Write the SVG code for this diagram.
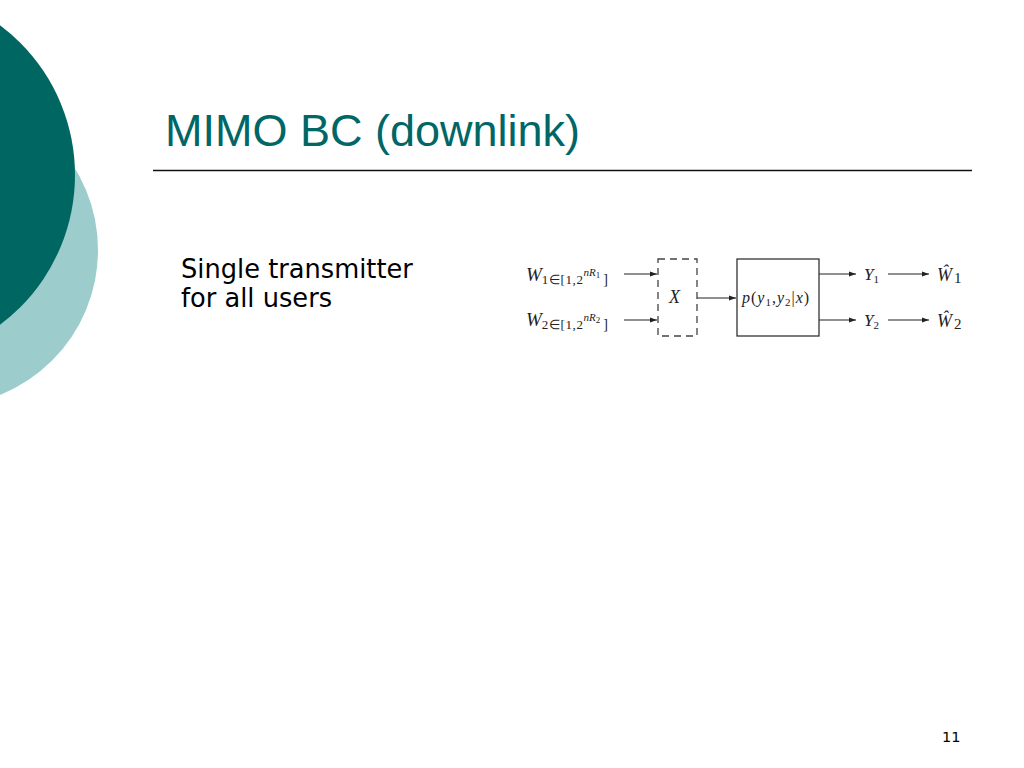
<svg xmlns="http://www.w3.org/2000/svg" width="1024" height="768" viewBox="0 0 1024 768">
<defs>
<marker id="ah" markerWidth="8" markerHeight="6" refX="7" refY="3" orient="auto" markerUnits="userSpaceOnUse">
<path d="M0,0.5 L7,3 L0,5.5 Z" fill="#222"/>
</marker>
<style>
.title{font-family:"Liberation Sans",Arial,sans-serif;font-size:45px;fill:#006666}
.body{font-family:"DejaVu Sans",Verdana,sans-serif;font-size:25.7px;fill:#000}
.pg{font-family:"DejaVu Sans",Verdana,sans-serif;font-size:14.5px;fill:#000}
.m{font-family:"Liberation Serif","Times New Roman",serif;fill:#222}
.it{font-style:italic}
.conn{stroke:#222;stroke-width:1.2;fill:none;marker-end:url(#ah)}
.box{fill:#fff;stroke:#333;stroke-width:1.3}
.dbox{fill:none;stroke:#444;stroke-width:1.3;stroke-dasharray:7 5}
</style>
</defs>
<rect width="1024" height="768" fill="#fff"/>
<circle cx="-58" cy="250" r="156" fill="#9ccccc"/>
<circle cx="-112" cy="175" r="187" fill="#006661"/>
<text class="title" x="165" y="146">MIMO BC (downlink)</text>
<line x1="153" y1="170.5" x2="972" y2="170.5" stroke="#111" stroke-width="1.5"/>
<text class="body" x="181" y="278">Single transmitter</text>
<text class="body" x="181" y="307">for all users</text>
<text class="pg" x="942" y="742">11</text>

<g id="connectors">
<line class="conn" x1="624" y1="274" x2="657" y2="274"/>
<line class="conn" x1="624" y1="320" x2="657" y2="320"/>
<line class="conn" x1="697" y1="298" x2="736" y2="298"/>
<line class="conn" x1="819" y1="274" x2="856" y2="274"/>
<line class="conn" x1="819" y1="320" x2="856" y2="320"/>
<line class="conn" x1="888" y1="274" x2="929" y2="274"/>
<line class="conn" x1="888" y1="320" x2="929" y2="320"/>
</g>

<g id="W1">
<text class="m" x="526" y="281"><tspan class="it" font-size="19">W</tspan><tspan font-size="13" dy="3" letter-spacing="0.6">1∈[1,2</tspan><tspan class="it" font-size="11" dy="-8">nR</tspan><tspan font-size="9" dy="2">1</tspan><tspan font-size="14" dy="6" dx="3">]</tspan></text>
</g>
<g id="W2">
<text class="m" x="526" y="326"><tspan class="it" font-size="19">W</tspan><tspan font-size="13" dy="3" letter-spacing="0.6">2∈[1,2</tspan><tspan class="it" font-size="11" dy="-8">nR</tspan><tspan font-size="9" dy="2">2</tspan><tspan font-size="14" dy="6" dx="3">]</tspan></text>
</g>
<g id="X">
<rect class="dbox" x="658" y="259" width="39" height="77"/>
<text class="m it" x="669" y="303" font-size="18">X</text>
</g>
<g id="channel">
<rect class="box" x="737" y="259" width="82" height="77"/>
<text class="m" x="742" y="303" font-size="16" letter-spacing="1"><tspan class="it">p</tspan>(<tspan class="it">y</tspan><tspan font-size="11" dy="3">1</tspan><tspan dy="-3">,</tspan><tspan class="it">y</tspan><tspan font-size="11" dy="3">2</tspan><tspan dy="-3">|</tspan><tspan class="it">x</tspan>)</text>
</g>
<g id="Y1">
<text class="m" x="864" y="280"><tspan class="it" font-size="17">Y</tspan><tspan font-size="11" dy="3">1</tspan></text>
</g>
<g id="Y2">
<text class="m" x="864" y="326"><tspan class="it" font-size="17">Y</tspan><tspan font-size="11" dy="3">2</tspan></text>
</g>
<g id="W1hat">
<text class="m" x="937" y="281"><tspan class="it" font-size="18">Ŵ</tspan><tspan font-size="15" dx="2" dy="2">1</tspan></text>
</g>
<g id="W2hat">
<text class="m" x="937" y="327"><tspan class="it" font-size="18">Ŵ</tspan><tspan font-size="15" dx="2" dy="2">2</tspan></text>
</g>
</svg>
